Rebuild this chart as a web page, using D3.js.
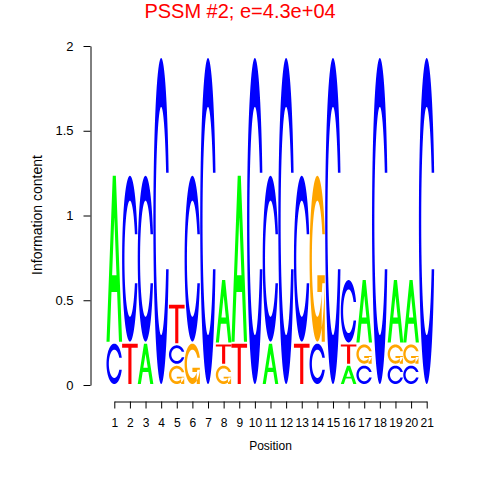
<!DOCTYPE html>
<html><head><meta charset="utf-8">
<script src="https://cdn.jsdelivr.net/npm/d3@7/dist/d3.min.js"></script>
<style>
html,body{margin:0;padding:0;background:#fff;}
svg{display:block;font-family:"Liberation Sans",Arial,Helvetica,sans-serif;}
</style></head>
<body><svg id="chart" width="480" height="480"></svg>
<script>
// ---- data (information content in bits per letter, per position) ----
const positions = d3.range(1, 22);
const bitsA = [0.99,0,0.25,0,0,0,0,0.38,0.99,0,0.25,0,0,0,0,0.12,0.38,0,0.38,0.38,0];
const bitsC = [0.25,0.99,0.99,1.935,0.121,0.99,1.935,0,0,1.935,0.99,1.935,0.99,0.25,1.935,0.38,0.12,1.935,0.12,0.12,1.935];
const bitsG = [0,0,0,0,0.119,0.25,0,0.12,0,0,0,0,0,0.99,0,0,0.125,0,0.125,0.125,0];
const bitsT = [0,0.25,0,0,0.24,0,0,0.125,0.25,0,0,0,0.25,0,0,0.125,0,0,0,0,0];
const yTicks = [0, 0.5, 1, 1.5, 2];
const yTickLabels = ["0", "0.5", "1", "1.5", "2"];
const title = "PSSM #2; e=4.3e+04";
const xTitle = "Position";
const yTitle = "Information content";
const letterColors = {A: "#00FF00", C: "#0000FF", G: "#FFA500", T: "#FF0000"};

// ---- glyph outlines in a unit box (y up), seqLogo style ----
function glyph(ch) {
  if (ch === "A") {
    return [[[0,0],[4,10],[6,10],[10,0],[8,0],[6.8,3],[3.2,3],[2,0]].map(p => [p[0]/10, p[1]/10]),
            [[3.6,4],[5,7.5],[6.4,4]].map(p => [p[0]/10, p[1]/10])];
  }
  if (ch === "T") {
    return [[[0,10],[10,10],[10,9],[6,9],[6,0],[4,0],[4,9],[0,9]].map(p => [p[0]/10, p[1]/10])];
  }
  const n = 100;
  const lin = (a, b) => d3.range(n).map(i => a + (b - a) * i / (n - 1));
  const a1 = lin(0.3 + Math.PI/2, Math.PI), a2 = lin(Math.PI, 1.5*Math.PI);
  const l1 = a1.map(a => [0.5 + 0.5*Math.sin(a), 0.5 + 0.5*Math.cos(a)]);
  const l2 = a2.map(a => [0.5 + 0.5*Math.sin(a), 0.5 + 0.5*Math.cos(a)]);
  const l = l1.concat(l2);
  const outer = l.concat(l.slice().reverse().map(p => [p[0], 1 - p[1]]));
  const hmax = d3.max(l1, p => p[1]);
  let i1 = a1.map(a => [0.5 + 0.35*Math.sin(a), 0.5 + 0.35*Math.cos(a)]).filter(p => p[1] <= hmax);
  i1[0] = [i1[0][0], hmax];
  const i2 = a2.map(a => [0.5 + 0.35*Math.sin(a), 0.5 + 0.35*Math.cos(a)]);
  const ii = i1.concat(i2);
  const inner = ii.concat(ii.slice().reverse().map(p => [p[0], 1 - p[1]]));
  const cpoly = outer.concat(inner.slice().reverse());
  if (ch === "C") return [cpoly];
  const r1 = d3.max(l1, p => p[0]);
  const h1 = 0.4;
  const add = [[r1,h1],[0.5,h1],[0.5,h1-0.1],[r1-0.2,h1-0.1],[r1-0.2,0],[r1,0],[r1,h1]];
  return [cpoly, add];
}

// ---- layout ----
const svg = d3.select("#chart");
const x = d3.scaleLinear().domain([1, 21]).range([114.3, 426.7]);
const y = d3.scaleLinear().domain([0, 2]).range([385, 46]);
const inset = 1; // small white gap between stacked letters (px)

// letters
const letters = ["A","C","G","T"];
const src = {A: bitsA, C: bitsC, G: bitsG, T: bitsT};
const gLogo = svg.append("g");
positions.forEach((pos, i) => {
  const col = letters.map(L => ({L, h: src[L][i]})).filter(d => d.h > 0)
    .sort((a, b) => a.h - b.h);
  let base = 0;
  col.forEach(d => {
    const x0 = x(pos - 0.5), x1 = x(pos + 0.5);
    const pyb = y(base) - inset, pyt = y(base + d.h) + inset;
    const polys = glyph(d.L);
    const path = polys.map(poly => "M" + poly.map(p =>
      [x0 + (x1 - x0) * p[0], pyb + (pyt - pyb) * p[1]].map(v => v.toFixed(2)).join(",")).join("L") + "Z").join("");
    gLogo.append("path").attr("d", path).attr("fill", letterColors[d.L])
      .attr("fill-rule", "evenodd").attr("stroke", "none");
    base += d.h;
  });
});

// y axis
const yAxis = d3.axisLeft(y).tickValues(yTicks).tickFormat((d, i) => yTickLabels[i])
  .tickSizeInner(7).tickSizeOuter(0).tickPadding(10);
const gy = svg.append("g").attr("transform", "translate(90.5,0)").call(yAxis);
gy.selectAll("text").attr("font-size", 13).attr("fill", "#000")
  .attr("font-family", "Liberation Sans, Arial, sans-serif");
gy.selectAll("line,path").attr("stroke", "#000");

// x axis
const xAxis = d3.axisBottom(x).tickValues(positions).tickFormat(d3.format("d"))
  .tickSizeInner(7).tickSizeOuter(0).tickPadding(10);
const gx = svg.append("g").attr("transform", "translate(0,401.5)").call(xAxis);
gx.selectAll("text").attr("font-size", 12).attr("fill", "#000")
  .attr("font-family", "Liberation Sans, Arial, sans-serif");
gx.selectAll("line,path").attr("stroke", "#000");

// titles
svg.append("text").attr("x", 240).attr("y", 18).attr("text-anchor", "middle")
  .attr("font-size", 20).attr("fill", "#FF0000").text(title);
svg.append("text").attr("x", 270.5).attr("y", 450).attr("text-anchor", "middle")
  .attr("font-size", 12).attr("fill", "#000").text(xTitle);
svg.append("text").attr("transform", "translate(42,215) rotate(-90)").attr("text-anchor", "middle")
  .attr("font-size", 14).attr("fill", "#000").text(yTitle);
</script></body></html>
